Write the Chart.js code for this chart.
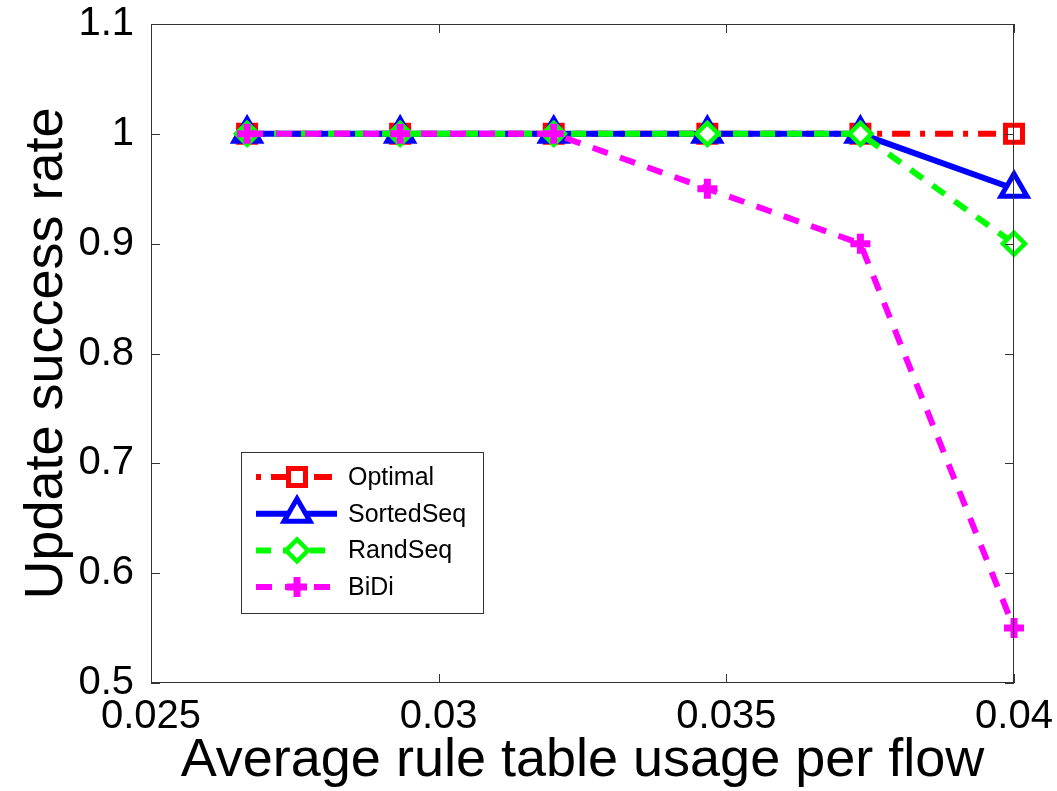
<!DOCTYPE html>
<html lang="en">
<head>
  <meta charset="UTF-8">
  <title>Update success rate</title>
  <script src="https://cdn.jsdelivr.net/npm/chart.js"></script>
  <style>
    html, body { margin: 0; padding: 0; background: #fff; }
    canvas { display: block; }
  </style>
</head>
<body>
  <canvas id="rateChart" width="1057" height="791"></canvas>

  <script>
    // values
    const xValues = [0.02667, 0.02933, 0.032, 0.03467, 0.03733, 0.04];
    const optimal = [1, 1, 1, 1, 1, 1];
    const sortedSeq = [1, 1, 1, 1, 1, 0.95];
    const randSeq = [1, 1, 1, 1, 1, 0.9];
    const biDi = [1, 1, 1, 0.95, 0.9, 0.55];

    const xTicks = [0.025, 0.03, 0.035, 0.04];
    const xTickLabels = ['0.025', '0.03', '0.035', '0.04'];
    const yTicks = [0.5, 0.6, 0.7, 0.8, 0.9, 1, 1.1];
    const yTickLabels = ['0.5', '0.6', '0.7', '0.8', '0.9', '1', '1.1'];

    const FONT = '"Liberation Sans", Arial, sans-serif';
    const pts = arr => arr.map((v, i) => ({ x: xValues[i], y: v }));

    // box around the axes with inward ticks, matlab style
    const framePlugin = {
      id: 'frame',
      afterDatasetsDraw(chart) {
        const { ctx, chartArea: a, scales } = chart;
        const len = 9;
        ctx.save();
        ctx.strokeStyle = '#333';
        ctx.lineWidth = 1;
        ctx.setLineDash([]);
        ctx.strokeRect(a.left + 0.5, a.top + 0.5, a.right - a.left - 1, a.bottom - a.top - 1);
        ctx.beginPath();
        scales.x.ticks.forEach(t => {
          const px = Math.round(scales.x.getPixelForValue(t.value)) + 0.5;
          ctx.moveTo(px, a.bottom); ctx.lineTo(px, a.bottom - len);
          ctx.moveTo(px, a.top); ctx.lineTo(px, a.top + len);
        });
        scales.y.ticks.forEach(t => {
          const py = Math.round(scales.y.getPixelForValue(t.value)) + 0.5;
          ctx.moveTo(a.left, py); ctx.lineTo(a.left + len, py);
          ctx.moveTo(a.right, py); ctx.lineTo(a.right - len, py);
        });
        ctx.stroke();
        ctx.restore();
      }
    };

    // legend with line sample + marker
    const legendPlugin = {
      id: 'matLegend',
      afterDraw(chart) {
        const { ctx } = chart;
        const box = { x: 241, y: 452, w: 242, h: 161 };
        ctx.save();
        ctx.fillStyle = '#fff';
        ctx.fillRect(box.x, box.y, box.w, box.h);
        ctx.strokeStyle = '#333';
        ctx.lineWidth = 1;
        ctx.strokeRect(box.x + 0.5, box.y + 0.5, box.w, box.h);
        chart.data.datasets.forEach((ds, i) => {
          const cy = 477 + i * 36.7;
          ctx.strokeStyle = ds.borderColor;
          ctx.lineWidth = ds.borderWidth;
          ctx.setLineDash(ds.borderDash || []);
          ctx.lineDashOffset = ds.legendDashOffset || 0;
          ctx.beginPath();
          ctx.moveTo(256, cy);
          ctx.lineTo(337, cy);
          ctx.stroke();
          ctx.setLineDash([]);
          ctx.lineDashOffset = 0;
          ctx.fillStyle = ds.pointBackgroundColor;
          ctx.strokeStyle = ds.pointBorderColor;
          ctx.lineWidth = ds.pointBorderWidth;
          Chart.helpers.drawPoint(ctx, {
            pointStyle: ds.pointStyle,
            radius: ds.pointRadius,
            borderWidth: ds.pointBorderWidth,
            rotation: 0
          }, 297, cy);
          ctx.fillStyle = '#000';
          ctx.font = '25px ' + FONT;
          ctx.textBaseline = 'middle';
          ctx.textAlign = 'left';
          ctx.fillText(ds.label, 348, cy + 1);
        });
        ctx.restore();
      }
    };

    const ctx = document.getElementById('rateChart').getContext('2d');
    new Chart(ctx, {
      type: 'line',
      data: {
        datasets: [
          {
            label: 'Optimal',
            data: pts(optimal),
            borderColor: '#ff0000',
            borderWidth: 6,
            borderDash: [18, 10, 5, 10],
            legendDashOffset: 28,
            pointStyle: 'rect',
            pointRadius: 12,
            pointBorderWidth: 5,
            pointBorderColor: '#ff0000',
            pointBackgroundColor: '#ffffff',
            order: 4
          },
          {
            label: 'SortedSeq',
            data: pts(sortedSeq),
            borderColor: '#0000ff',
            borderWidth: 6,
            pointStyle: 'triangle',
            pointRadius: 15,
            pointBorderWidth: 5,
            pointBorderColor: '#0000ff',
            pointBackgroundColor: '#ffffff',
            order: 3
          },
          {
            label: 'RandSeq',
            data: pts(randSeq),
            borderColor: '#00ff00',
            borderWidth: 6,
            borderDash: [15, 12],
            pointStyle: 'rectRot',
            pointRadius: 11,
            pointBorderWidth: 4.5,
            pointBorderColor: '#00ff00',
            pointBackgroundColor: '#ffffff',
            order: 2
          },
          {
            label: 'BiDi',
            data: pts(biDi),
            borderColor: '#ff00ff',
            borderWidth: 6,
            borderDash: [16, 13],
            pointStyle: 'cross',
            pointRadius: 10,
            pointBorderWidth: 7,
            pointBorderColor: '#ff00ff',
            pointBackgroundColor: '#ff00ff',
            order: 1
          }
        ]
      },
      options: {
        responsive: false,
        animation: false,
        devicePixelRatio: 1,
        events: [],
        layout: { padding: { left: 0, top: 24, right: 43, bottom: 0 } },
        elements: { line: { tension: 0 } },
        datasets: { line: { clip: false } },
        plugins: { legend: { display: false }, tooltip: { enabled: false } },
        scales: {
          x: {
            type: 'linear',
            min: 0.025,
            max: 0.04,
            afterBuildTicks: s => { s.ticks = xTicks.map(v => ({ value: v })); },
            afterFit: s => { s.height = 108; s.paddingLeft = 0; s.paddingRight = 0; },
            grid: { display: false },
            border: { display: false },
            ticks: {
              autoSkip: false,
              maxRotation: 0,
              padding: 2,
              color: '#000',
              font: { family: FONT, size: 40 },
              callback: (v, i) => xTickLabels[i]
            },
            title: {
              display: true,
              text: 'Average rule table usage per flow',
              color: '#000',
              font: { family: FONT, size: 54, lineHeight: 1.1 },
              padding: { top: 0, bottom: 0 }
            }
          },
          y: {
            type: 'linear',
            min: 0.5,
            max: 1.1,
            afterBuildTicks: s => { s.ticks = yTicks.map(v => ({ value: v })); },
            afterFit: s => { s.width = 151; s.paddingTop = 0; s.paddingBottom = 0; },
            grid: { display: false },
            border: { display: false },
            ticks: {
              autoSkip: false,
              padding: 9,
              color: '#000',
              font: { family: FONT, size: 40 },
              callback: (v, i) => yTickLabels[i]
            },
            title: {
              display: true,
              text: 'Update success rate',
              color: '#000',
              font: { family: FONT, size: 54, lineHeight: 1.1 },
              padding: { top: 17, bottom: 0 }
            }
          }
        }
      },
      plugins: [framePlugin, legendPlugin]
    });
  </script>
</body>
</html>
